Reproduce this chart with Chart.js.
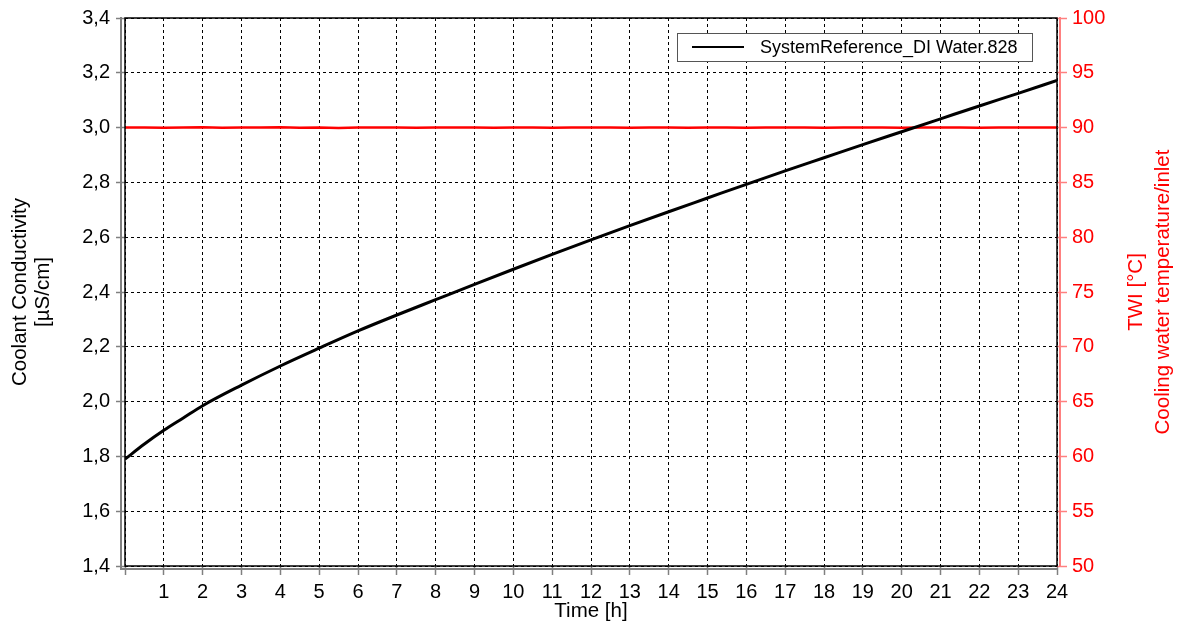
<!DOCTYPE html>
<html><head><meta charset="utf-8">
<script src="https://cdn.jsdelivr.net/npm/chart.js@4"></script>
<style>html,body{margin:0;padding:0;background:#fff}#wrap{width:1184px;height:628px}</style>
</head><body><div id="wrap"><canvas id="c" width="1184" height="628"></canvas></div>
<script>
// ---- data ----
const timeHours = [0,0.5,1,1.5,2,3,4,5,6,7,8,9,10,11,12,13,14,15,16,17,18,19,20,21,22,23,24];
const conductivity = [1.79,1.845,1.895,1.94,1.985,2.06,2.13,2.195,2.258,2.316,2.372,2.428,2.483,2.537,2.59,2.642,2.693,2.743,2.793,2.842,2.89,2.938,2.985,3.032,3.079,3.125,3.172];
const tempHours = [0,0.5,1,1.5,2,2.5,3,3.5,4,4.5,5,5.5,6,6.5,7,7.5,8,8.5,9,9.5,10,10.5,11,11.5,12,12.5,13,13.5,14,14.5,15,15.5,16,16.5,17,17.5,18,18.5,19,19.5,20,20.5,21,21.5,22,22.5,23,23.5,24];
const twiTemp = [90.0,90.02,89.99,90.01,90.03,89.98,90.0,90.02,90.04,89.99,90.0,89.97,90.01,90.02,90.0,89.99,90.01,90.0,90.02,89.98,90.0,90.01,89.99,90.02,90.0,90.01,89.99,90.0,90.02,89.98,90.01,90.0,89.99,90.02,90.0,90.01,89.98,90.0,90.02,90.0,89.99,90.01,90.0,90.02,89.98,90.0,90.01,90.0,90.02];
const seriesName = 'SystemReference_DI Water.828';
const leftTitle = ['Coolant Conductivity','[µS/cm]'];
const rightTitle = ['TWI [°C]','Cooling water temperature/inlet'];
const xTitle = 'Time [h]';

const FONT = "'Liberation Sans', Arial, sans-serif";

const decor = {
  id:'decor',
  afterDraw(chart){
    const {ctx, chartArea:a} = chart;
    ctx.save();
    ctx.lineWidth = 2;
    ctx.strokeStyle = '#808080';
    ctx.beginPath(); ctx.moveTo(a.left-4, a.top-1); ctx.lineTo(a.left-4, a.bottom+4); ctx.stroke();
    ctx.beginPath(); ctx.moveTo(a.left-4, a.bottom+3); ctx.lineTo(a.right+1, a.bottom+3); ctx.stroke();
    ctx.strokeStyle = '#ff8080';
    ctx.beginPath(); ctx.moveTo(a.right+3, a.top-1); ctx.lineTo(a.right+3, a.bottom+1); ctx.stroke();
    ctx.lineWidth = 1.5;
    ctx.strokeStyle = '#000';
    ctx.strokeRect(a.left, a.top, a.right-a.left, a.bottom-a.top);
    // legend
    const lx=677, ly=33, lw=355, lh=28;
    ctx.fillStyle='#fff'; ctx.fillRect(lx,ly,lw,lh);
    ctx.lineWidth=1; ctx.strokeStyle='#555'; ctx.strokeRect(lx+0.5,ly+0.5,lw,lh);
    ctx.lineWidth=2; ctx.strokeStyle='#000';
    ctx.beginPath(); ctx.moveTo(692,47); ctx.lineTo(744,47); ctx.stroke();
    ctx.fillStyle='#000'; ctx.font='18px '+FONT; ctx.textBaseline='middle'; ctx.textAlign='left';
    ctx.fillText(seriesName, 760, 48);
    // axis titles
    ctx.font='20.5px '+FONT;
    ctx.textAlign='center';
    ctx.fillText(xTitle, 591, 611);
    const cy = (a.top+a.bottom)/2;
    const rot = (x, txt, col) => { ctx.save(); ctx.translate(x, cy); ctx.rotate(-Math.PI/2); ctx.fillStyle=col; ctx.fillText(txt,0,0); ctx.restore(); };
    rot(20, leftTitle[0], '#000');
    rot(43, leftTitle[1], '#000');
    rot(1136, rightTitle[0], '#ff0000');
    rot(1163, rightTitle[1], '#ff0000');
    ctx.restore();
  }
};

new Chart(document.getElementById('c'), {
  type:'line',
  data:{
    datasets:[
      {label:seriesName, data: timeHours.map((t,i)=>({x:t,y:conductivity[i]})), borderColor:'#000', borderWidth:3, pointRadius:0, cubicInterpolationMode:'monotone', yAxisID:'y', order:1},
      {label:'TWI', data: tempHours.map((t,i)=>({x:t,y:twiTemp[i]})), borderColor:'#ff0000', borderWidth:2.5, pointRadius:0, tension:0, yAxisID:'y1', order:2}
    ]
  },
  options:{
    responsive:false, animation:false, devicePixelRatio:1,
    layout:{padding:{top:18,left:0,right:0,bottom:0}},
    plugins:{legend:{display:false}, tooltip:{enabled:false}},
    scales:{
      x:{type:'linear', min:0, max:24,
        afterFit:s=>{s.height=62;},
        ticks:{stepSize:1, autoSkip:false, maxRotation:0, color:'#000', font:{size:20, family:FONT}, padding:5, callback:v=> v===0?'':String(v)},
        grid:{color:'#000', lineWidth:1, tickColor:'#808080', tickLength:9, tickWidth:1.5, tickBorderDash:[]},
        border:{display:false, dash:[3,3]}},
      y:{position:'left', min:1.4, max:3.4,
        afterFit:s=>{s.width=125;},
        ticks:{stepSize:0.2, color:'#000', font:{size:20, family:FONT}, padding:6, callback:v=> (Math.round(v*10)/10).toFixed(1).replace('.',',')},
        grid:{color:'#000', lineWidth:1, tickColor:'#808080', tickLength:9, tickWidth:1.5, tickBorderDash:[]},
        border:{display:false, dash:[3,3]}},
      y1:{position:'right', min:50, max:100,
        afterFit:s=>{s.width=127;},
        ticks:{stepSize:5, color:'#ff0000', font:{size:20, family:FONT}, padding:5},
        grid:{drawOnChartArea:false, tickColor:'#ff8080', tickLength:10, tickWidth:1.5},
        border:{display:false}}
    }
  },
  plugins:[decor]
});
</script></body></html>
